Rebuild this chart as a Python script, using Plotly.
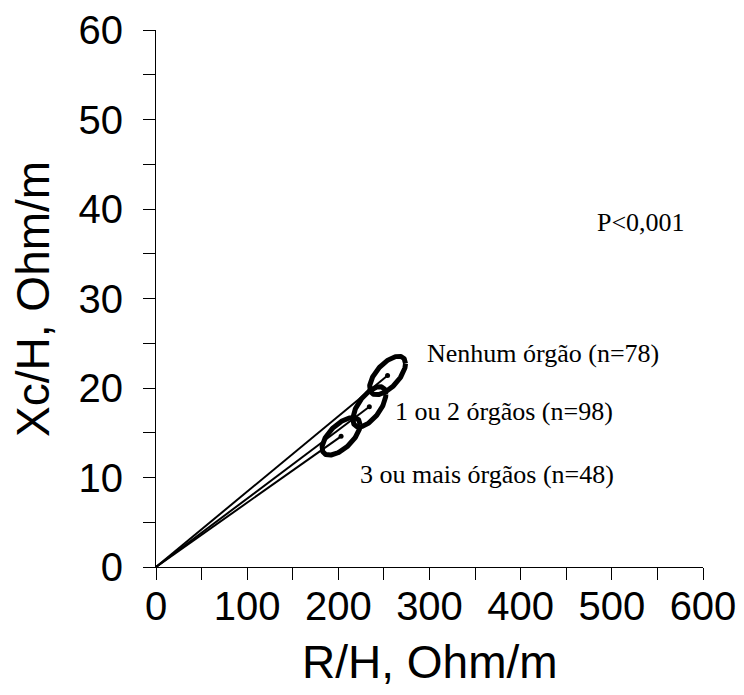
import numpy as np
import plotly.graph_objects as go

# Mean impedance vectors (R/H, Xc/H) by number of affected organs
groups = ["Nenhum órgão (n=78)", "1 ou 2 órgãos (n=98)", "3 ou mais órgãos (n=48)"]
mean_r = [254.0, 234.0, 203.0]
mean_xc = [21.4, 17.9, 14.6]
# Confidence-ellipse half extents and R–Xc correlation
half_r = [19.7, 18.1, 20.9]
half_xc = [2.15, 2.25, 2.1]
corr = [0.62, 0.62, 0.62]

x_ticks = [0, 100, 200, 300, 400, 500, 600]
y_ticks = [0, 10, 20, 30, 40, 50, 60]
p_text = "P<0,001"

fig = go.Figure()

# vectors from the origin to each group mean
for r, xc in zip(mean_r, mean_xc):
    fig.add_trace(go.Scatter(x=[0, r], y=[0, xc], mode="lines",
                             line=dict(color="black", width=2),
                             hoverinfo="skip", showlegend=False))

# confidence ellipses
t = np.linspace(0, 2 * np.pi, 200)
for r, xc, hr, hx, rho in zip(mean_r, mean_xc, half_r, half_xc, corr):
    ex = r + hr * np.cos(t)
    ey = xc + hx * (rho * np.cos(t) + np.sqrt(1 - rho ** 2) * np.sin(t))
    fig.add_trace(go.Scatter(x=ex, y=ey, mode="lines",
                             line=dict(color="black", width=5),
                             hoverinfo="skip", showlegend=False))

# group means
fig.add_trace(go.Scatter(x=mean_r, y=mean_xc, mode="markers",
                         marker=dict(color="black", size=5),
                         hoverinfo="skip", showlegend=False))

label_font = dict(family="Liberation Serif", size=26, color="black")
label_pos = [(295, 23.9), (260, 17.4), (222, 10.3)]
for g, (lx, ly) in zip(groups, label_pos):
    fig.add_annotation(x=lx, y=ly, text=g, showarrow=False,
                       xanchor="left", yanchor="middle", font=label_font)
fig.add_annotation(x=482, y=38.5, text=p_text, showarrow=False,
                   xanchor="left", yanchor="middle", font=label_font)

axis_common = dict(showgrid=False, zeroline=False, showline=True,
                   linecolor="black", linewidth=1, ticks="outside",
                   ticklen=12, tickwidth=1, tickcolor="black", automargin=False,
                   tickfont=dict(family="Liberation Sans", size=40, color="black"))

fig.update_xaxes(range=[0, 600], tickvals=x_ticks, ticklabelstandoff=-8,
                 minor=dict(dtick=50, ticks="outside", ticklen=12, tickcolor="black"),
                 **axis_common)
fig.update_yaxes(range=[0, 60], tickvals=y_ticks, ticklabelstandoff=12,
                 minor=dict(dtick=5, ticks="outside", ticklen=12, tickcolor="black"),
                 **axis_common)

# axis titles placed in paper space
title_font = dict(family="Liberation Sans", size=46, color="black")
fig.add_annotation(x=0.5, y=-0.176, xref="paper", yref="paper", text="R/H, Ohm/m",
                   showarrow=False, xanchor="center", yanchor="middle", font=title_font)
fig.add_annotation(x=-0.226, y=0.5, xref="paper", yref="paper", text="Xc/H, Ohm/m",
                   showarrow=False, xanchor="center", yanchor="middle",
                   textangle=-90, font=title_font)

fig.update_layout(width=744, height=695, autosize=False,
                  margin=dict(l=156, r=41, t=30, b=128),
                  plot_bgcolor="white", paper_bgcolor="white")

fig.write_html("out.html")
